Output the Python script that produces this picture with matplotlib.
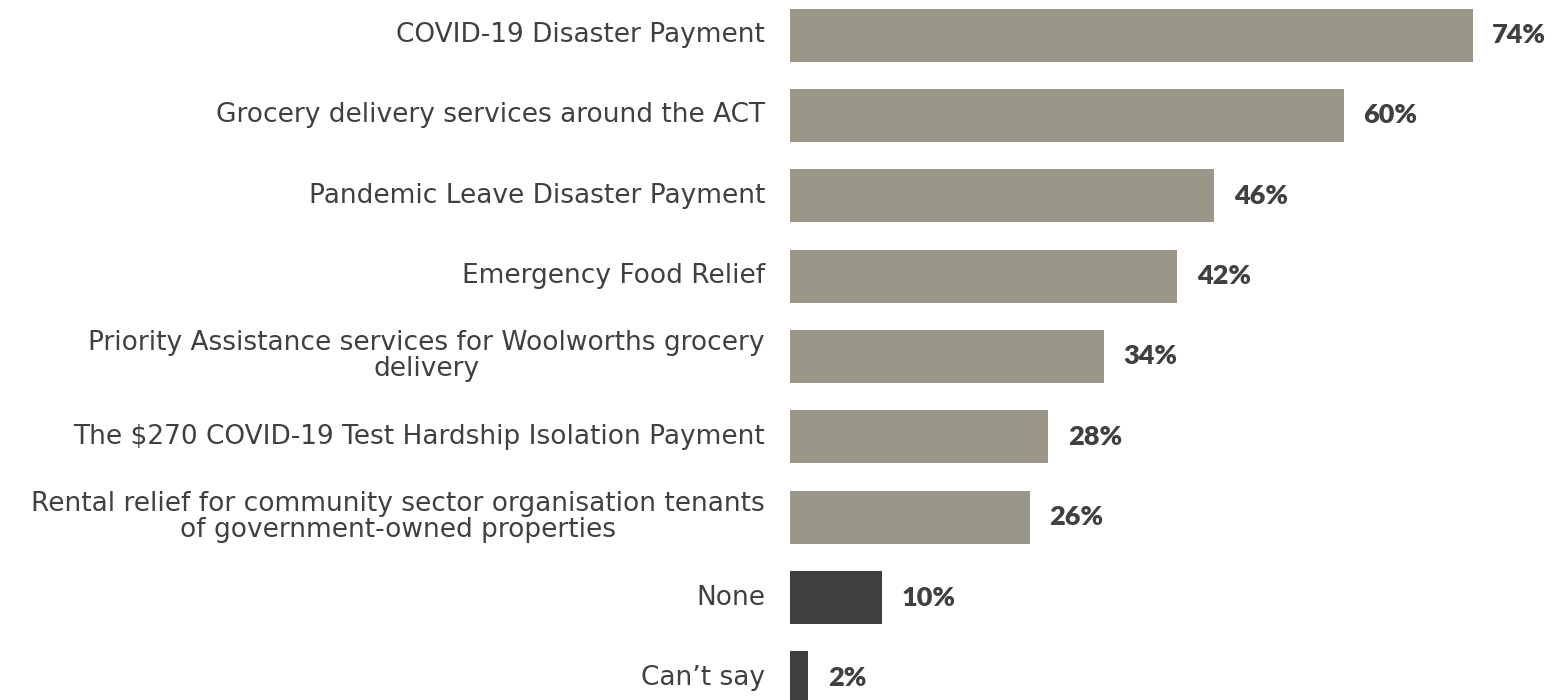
import matplotlib.pyplot as plt

# share of respondents aware of each support measure
categories = [
    "COVID-19 Disaster Payment",
    "Grocery delivery services around the ACT",
    "Pandemic Leave Disaster Payment",
    "Emergency Food Relief",
    "Priority Assistance services for Woolworths grocery\ndelivery",
    "The $270 COVID-19 Test Hardship Isolation Payment",
    "Rental relief for community sector organisation tenants\nof government-owned properties",
    "None",
    "Can\u2019t say",
]
values = [74, 60, 46, 42, 34, 28, 26, 10, 2]
value_labels = ["74%", "60%", "46%", "42%", "34%", "28%", "26%", "10%", "2%"]

grey = "#9a9788"
dark = "#404040"
colors = [grey] * 7 + [dark] * 2

W, H = 1556, 700
fig = plt.figure(figsize=(W / 100, H / 100), dpi=100)

# axes spans from the bar baseline to the right edge of the figure
x0 = 790
px_per_pct = 682.7 / 74
ax = fig.add_axes([x0 / W, 0, 1 - x0 / W, 1])
ax.set_xlim(0, (W - x0) / px_per_pct)

row = 80.36
top = 35
ax.set_ylim((H - top) / row, -top / row)

pos = list(range(len(values)))
ax.barh(pos, values, height=53 / row, color=colors)

for y, v, lab in zip(pos, values, value_labels):
    ax.annotate(lab, (v, y), xytext=(14, 0), textcoords="offset points",
                ha="left", va="center", fontsize=19.5, fontweight="heavy",
                family="Lato", color=dark)

for y, cat in zip(pos, categories):
    ax.annotate(cat, (0, y), xytext=(-18, 0), textcoords="offset points",
                ha="right", va="center", multialignment="center",
                fontsize=19, family="DejaVu Sans", color="#404040",
                linespacing=1.0, annotation_clip=False)

ax.axis("off")
fig.savefig("out.png", dpi=100)
